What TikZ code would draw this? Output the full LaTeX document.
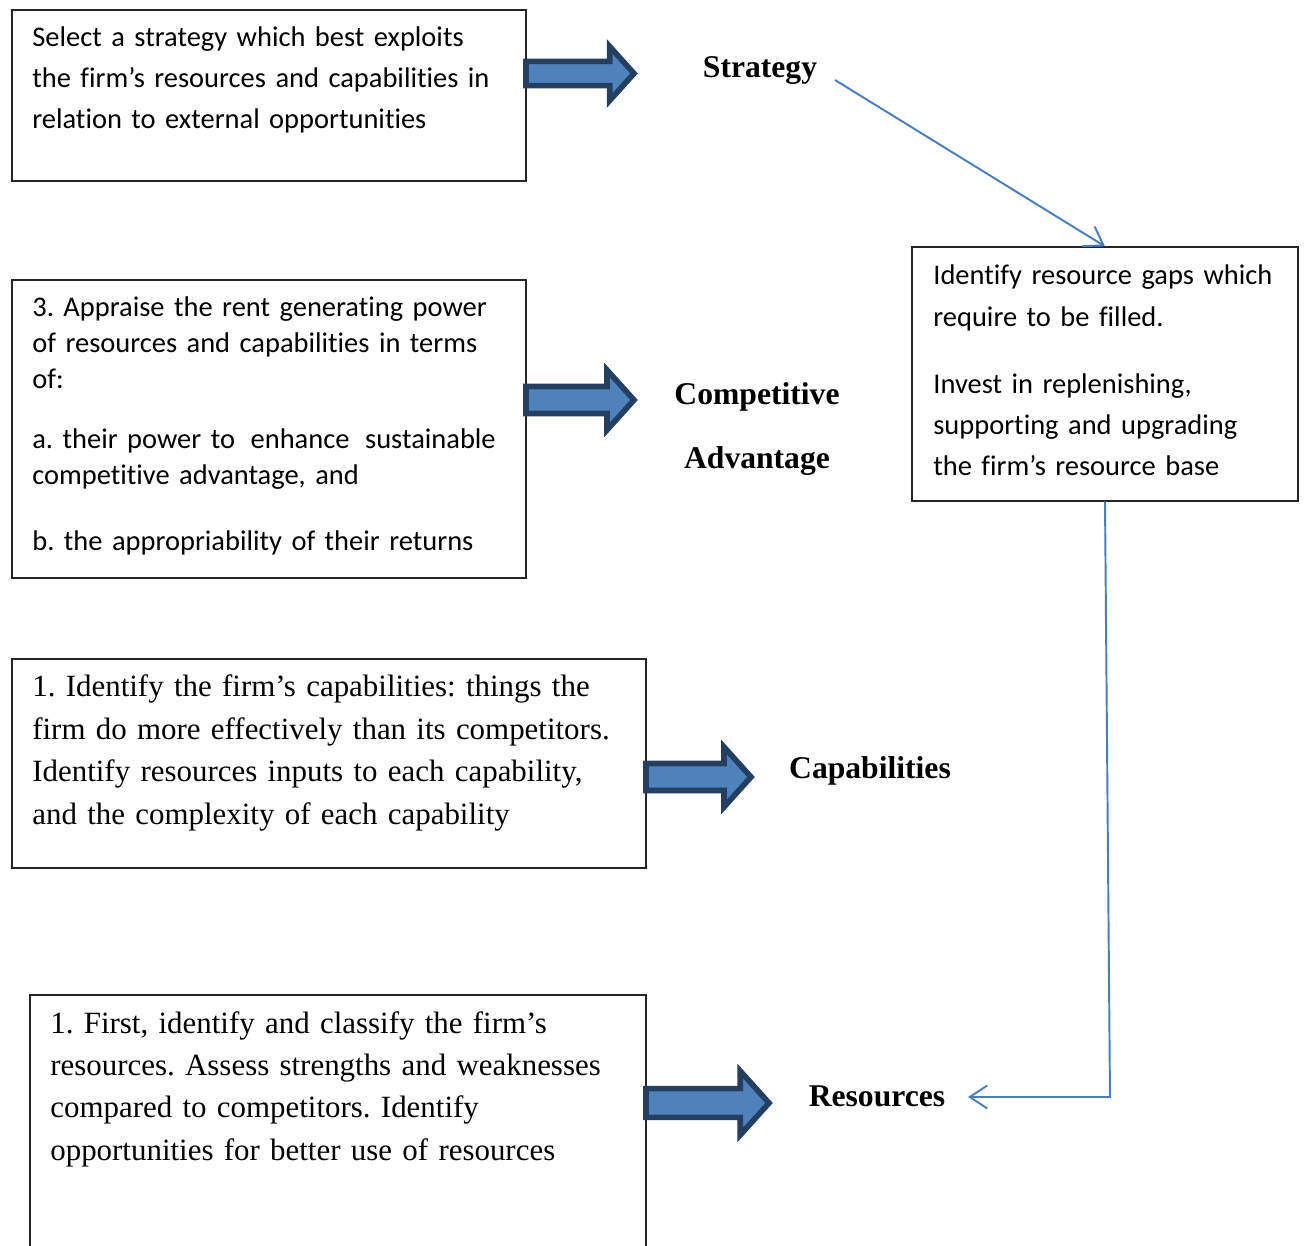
\documentclass[tikz,border=0pt]{standalone}
\usepackage{fontspec}
\setmainfont{Liberation Serif}
\newfontfamily\calibri[Ligatures=NoCommon]{Carlito}
\usetikzlibrary{arrows.meta,fit,positioning}

\definecolor{arrowfill}{HTML}{4F81BD}
\definecolor{arrowline}{HTML}{243F60}
\definecolor{linkblue}{HTML}{4A7EBB}

% block arrow: x start, x tip, y centre, head half-height
\newcommand{\fatarrow}[4]{%
  \draw[fat] (#1,{#3-0.45*#4}) -- ({#2-0.9*#4},{#3-0.45*#4}) -- ({#2-0.9*#4},{#3-#4})
    -- (#2,#3) -- ({#2-0.9*#4},{#3+#4}) -- ({#2-0.9*#4},{#3+0.45*#4})
    -- (#1,{#3+0.45*#4}) -- cycle;}

\begin{document}
\frenchspacing
\begin{tikzpicture}[x=0.02cm,y=-0.02cm,
   frame/.style={draw=black!85,line width=0.7pt,inner sep=0pt},
   sanstxt/.style={anchor=base west,inner sep=0pt,align=left,
     font=\calibri\fontsize{16.2}{23.2}\selectfont},
   seriftxt/.style={anchor=base west,inner sep=0pt,align=left,
     font=\fontsize{17.6}{24.1}\selectfont},
   lbl/.style={inner sep=0pt,align=center,font=\bfseries\fontsize{18}{36.3}\selectfont},
   fat/.style={fill=arrowfill,draw=arrowline,line width=3.2pt},
   link/.style={draw=linkblue,line width=1.1pt,-{Straight Barb[length=3.5mm,width=4.6mm]}}]
  \useasboundingbox (0,0) rectangle (1306,1246);

  % boxes
  \node[frame,fit={(12,10) (526,181)}] (selbox) {};
  \node[frame,fit={(12,280) (526,578)}] (rentbox) {};
  \node[frame,fit={(12,659) (646,868)}] (capbox) {};
  \node[frame,fit={(30,995) (646,1300)}] (resbox) {};
  \node[frame,fit={(912,247) (1298,501)}] (gapbox) {};

  % box texts
  \node[sanstxt,text width=9.8cm] (seltxt) at (32,46.5)
    {Select a strategy which best exploits\\
     the firm’s resources and capabilities in\\
     relation to external opportunities};
  \node[sanstxt,text width=9.8cm] (renttxt) at (32,316.5)
    {\fontsize{16.2}{20.4}\selectfont\setlength{\parskip}{14.2pt}%
     3. Appraise the rent generating power\\
     of resources and capabilities in terms\\
     of:\par
     a. their power to\hspace{0.55em}enhance\hspace{0.55em}sustainable\\
     competitive advantage, and\par
     b. the appropriability of their returns};
  \node[seriftxt,text width=12.2cm] (captxt) at (32,697)
    {1. Identify the firm’s capabilities: things the\\
     firm do more effectively than its competitors.\\
     Identify resources inputs to each capability,\\
     and the complexity of each capability};
  \node[seriftxt,text width=11.8cm] (restxt) at (50,1033)
    {1. First, identify and classify the firm’s\\
     resources. Assess strengths and weaknesses\\
     compared to competitors. Identify\\
     opportunities for better use of resources};
  \node[sanstxt,text width=7.4cm] (gaptxt) at (933,284.5)
    {\fontsize{16.2}{23.8}\selectfont\setlength{\parskip}{14.2pt}%
     Identify resource gaps which\\
     require to be filled.\par
     Invest in replenishing,\\
     supporting and upgrading\\
     the firm’s resource base};

  % labels
  \node[lbl] (strat) at (760,71) {Strategy};
  \node[lbl] (compadv) at (757,429) {Competitive\\Advantage};
  \node[lbl] (capab) at (870,771) {Capabilities};
  \node[lbl] (res) at (877,1096) {Resources};

  % block arrows
  \fatarrow{526}{634}{73.5}{27}
  \fatarrow{526}{634}{400}{30}
  \fatarrow{646}{751}{777}{30}
  \fatarrow{646}{769}{1103}{32}

  % thin connectors
  \coordinate (strat-out) at (835,80);
  \coordinate (bend) at (1110,1097);
  \coordinate (res-in) at (968,1097);
  \draw[link] (strat-out) -- (gapbox.north);
  \draw[link] (gapbox.south) -- (bend) -- (res-in);
\end{tikzpicture}
\end{document}
